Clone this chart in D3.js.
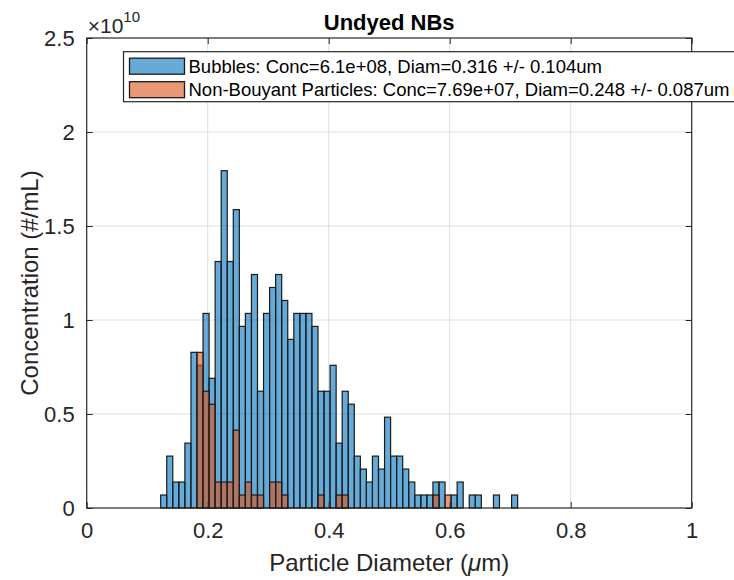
<!DOCTYPE html>
<html lang="en">
  <head>
    <meta charset="UTF-8" />
    <title>Undyed NBs</title>
    <style>
      body {
        margin: 0;
        overflow: hidden;
        background: #fff;
      }
      text {
        font-family: "Liberation Sans", Arial, sans-serif;
        fill: #262626;
      }
      .grid line {
        stroke: #dfdfdf;
        stroke-width: 1px;
      }
      .tick text {
        font-size: 22px;
      }
      .tick line {
        stroke: #262626;
      }
      .domain {
        display: none;
      }
    </style>
    <script src="https://unpkg.com/d3@7.8.1/dist/d3.min.js"></script>
  </head>
  <body>
    <script>
      const { select, scaleLinear, axisLeft, axisBottom, axisTop, axisRight } = d3;

//Tweakable
      // histogram bins (particle diameter, um)
      const binStart = 0.1223;
      const binWidth = 0.01;

      // concentration per bin, in units of 1e10 #/mL
      const bubbles = [
        0.069, 0.276, 0.138, 0.138, 0.345, 0.828, 0.759, 1.035, 0.69, 1.311,
        1.794, 1.311, 1.587, 0.966, 1.035, 1.242, 0.621, 1.035, 1.173, 1.242,
        1.104, 0.897, 1.035, 1.035, 1.035, 0.966, 0.621, 0.621, 0.759, 0.345,
        0.621, 0.552, 0.276, 0.207, 0.138, 0.276, 0.207, 0.483, 0.276, 0.276,
        0.207, 0.138, 0.069, 0.069, 0.069, 0.138, 0.138, 0, 0.069, 0.138,
        0, 0.069, 0.069, 0, 0, 0.069, 0, 0, 0.069
      ];
      const nonBuoyant = [
        0, 0, 0, 0, 0, 0, 0.828, 0.621, 0.552, 0.138,
        0.138, 0.138, 0.414, 0.069, 0.138, 0.069, 0.069, 0, 0.138, 0.138,
        0.069, 0, 0, 0, 0, 0, 0.069, 0, 0, 0.069,
        0.069, 0, 0, 0, 0, 0, 0, 0, 0, 0,
        0, 0, 0, 0, 0, 0.069, 0, 0.069, 0, 0,
        0, 0, 0, 0, 0, 0, 0, 0, 0
      ];

      const xTicks = [0, 0.2, 0.4, 0.6, 0.8, 1];
      const yTicks = [0, 0.5, 1, 1.5, 2, 2.5];

      const seriesNames = [
        "Bubbles: Conc=6.1e+08, Diam=0.316 +/- 0.104um",
        "Non-Bouyant Particles: Conc=7.69e+07, Diam=0.248 +/- 0.087um"
      ];
      const colors = ["#0072bd", "#d95319"];
      const faceAlpha = 0.6;

      const margin = { top: 38, right: 42.3, bottom: 72, left: 86.7 };
      const width = 734;
      const height = 580;

      const svg = select("body")
        .append("svg")
        .attr("width", width)
        .attr("height", height);

//Generic
      const x = scaleLinear()
        .domain([0, 1])
        .range([margin.left, width - margin.right]);

      const y = scaleLinear()
        .domain([0, 2.5])
        .range([height - margin.bottom, margin.top]);

      const plotW = width - margin.left - margin.right;
      const plotH = height - margin.top - margin.bottom;

      // grid
      const grid = svg.append("g").attr("class", "grid");
      grid.selectAll(".gx")
        .data(xTicks.slice(1, -1))
        .enter()
        .append("line")
        .attr("x1", d => x(d)).attr("x2", d => x(d))
        .attr("y1", margin.top).attr("y2", height - margin.bottom);
      grid.selectAll(".gy")
        .data(yTicks.slice(1, -1))
        .enter()
        .append("line")
        .attr("x1", margin.left).attr("x2", width - margin.right)
        .attr("y1", d => y(d)).attr("y2", d => y(d));

      // bars
      const drawBars = (values, color) => {
        svg.append("g")
          .selectAll("rect")
          .data(values.map((v, i) => ({ x0: binStart + i * binWidth, v })).filter(d => d.v > 0))
          .enter()
          .append("rect")
          .attr("x", d => x(d.x0))
          .attr("y", d => y(d.v))
          .attr("width", x(binWidth) - x(0))
          .attr("height", d => y(0) - y(d.v))
          .attr("fill", color)
          .attr("fill-opacity", faceAlpha)
          .attr("stroke", "#1a1a1a")
          .attr("stroke-width", 1.2);
      };
      drawBars(bubbles, colors[0]);
      drawBars(nonBuoyant, colors[1]);

      // axes (MATLAB style: inward ticks, box on)
      const tickLen = 6;
      svg.append("g")
        .attr("transform", `translate(0, ${height - margin.bottom})`)
        .call(axisBottom(x).tickValues(xTicks).tickFormat(d3.format("~g")).tickSizeInner(-tickLen).tickSizeOuter(0).tickPadding(14));
      svg.append("g")
        .attr("transform", `translate(0, ${margin.top})`)
        .call(axisTop(x).tickValues(xTicks).tickFormat("").tickSizeInner(-tickLen).tickSizeOuter(0));
      svg.append("g")
        .attr("transform", `translate(${margin.left}, 0)`)
        .call(axisLeft(y).tickValues(yTicks).tickFormat(d3.format("~g")).tickSizeInner(-tickLen).tickSizeOuter(0).tickPadding(12));
      svg.append("g")
        .attr("transform", `translate(${width - margin.right}, 0)`)
        .call(axisRight(y).tickValues(yTicks).tickFormat("").tickSizeInner(-tickLen).tickSizeOuter(0));

      svg.append("rect")
        .attr("x", margin.left)
        .attr("y", margin.top)
        .attr("width", plotW)
        .attr("height", plotH)
        .attr("fill", "none")
        .attr("stroke", "#262626")
        .attr("stroke-width", 1.2);

      // exponent
      const ex = svg.append("text")
        .attr("x", margin.left + 1)
        .attr("y", 33)
        .style("font-size", "21px");
      ex.append("tspan").text("\u00d710");
      ex.append("tspan").attr("dy", -11).style("font-size", "15px").text("10");

      // title
      svg.append("text")
        .attr("x", margin.left + plotW / 2)
        .attr("y", 30)
        .attr("text-anchor", "middle")
        .style("font-size", "22px")
        .style("font-weight", "bold")
        .style("fill", "#000")
        .text("Undyed NBs");

      // axis labels
      const xl = svg.append("text")
        .attr("x", margin.left + plotW / 2)
        .attr("y", 571)
        .attr("text-anchor", "middle")
        .style("font-size", "24px");
      xl.append("tspan").text("Particle Diameter (");
      xl.append("tspan").style("font-style", "italic").text("\u03bc");
      xl.append("tspan").text("m)");

      svg.append("text")
        .attr("transform", `translate(38, ${margin.top + plotH / 2 + 10}) rotate(-90)`)
        .attr("text-anchor", "middle")
        .style("font-size", "24px")
        .text("Concentration (#/mL)");

      // legend
      const lg = svg.append("g").attr("transform", "translate(123.5, 51.7)");
      lg.append("rect")
        .attr("width", 640)
        .attr("height", 50)
        .attr("fill", "#fff")
        .attr("stroke", "#262626")
        .attr("stroke-width", 1.2);
      seriesNames.forEach((name, i) => {
        lg.append("rect")
          .attr("x", 6)
          .attr("y", 6.5 + i * 23.5)
          .attr("width", 55)
          .attr("height", 16)
          .attr("fill", colors[i])
          .attr("fill-opacity", faceAlpha)
          .attr("stroke", "#1a1a1a")
          .attr("stroke-width", 1.3);
        lg.append("text")
          .attr("x", 65)
          .attr("y", 21 + i * 23.5)
          .style("font-size", "18.5px")
          .style("fill", "#000")
          .text(name);
      });
    </script>
  </body>
</html>
